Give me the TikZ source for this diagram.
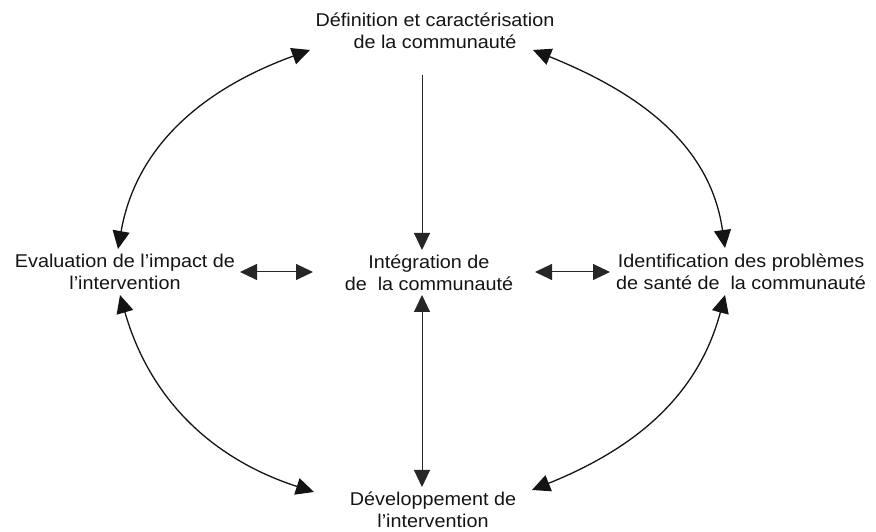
\documentclass[tikz,border=0pt]{standalone}
\usepackage{fontspec}
\setmainfont{Liberation Sans}[FakeStretch=1.07]
\usetikzlibrary{arrows.meta}
\tikzset{
  stage/.style={align=center, inner sep=0pt, text=black!92,
    font=\fontsize{18.5}{22.3}\selectfont},
  link/.style={line width=1pt, draw=black!85},
  ring/.style={line width=1.3pt, draw=black!92},
  oneway/.style={link, arrows={-Triangle[length=17pt,width=16pt]}},
  twoway/.style={link, arrows={Triangle[length=17pt,width=16pt]-Triangle[length=17pt,width=16pt]}},
  ringway/.style={ring, arrows={Triangle[length=18pt,width=17pt]-Triangle[length=18pt,width=17pt]}},
}
\begin{document}
\begin{tikzpicture}[x=1pt,y=1pt]
\useasboundingbox (0,0) rectangle (876,532);

% stages of the cycle
\node[stage] (def) at (435,501) {Définition et caractérisation\\de la communauté};
\node[stage] (integ) at (429,259) {Intégration de\\de\ \ la communauté};
\node[stage] (eval) at (125,260) {Evaluation de l’impact de\\l’intervention};
\node[stage] (ident) at (741,260) {Identification des problèmes\\de santé de\ \ la communauté};
\node[stage] (dev) at (433,22) {Développement de\\l’intervention};

% straight links through the centre
\draw[oneway] ([shift={(-13,-44)}]def.center) -- ([shift={(-7,23)}]integ.center);
\draw[twoway] ([shift={(-7,-22)}]integ.center) -- ([shift={(-11,23)}]dev.center);
\draw[twoway] ([shift={(115,0)}]eval.center) -- ([shift={(-116,1)}]integ.center);
\draw[twoway] ([shift={(106,1)}]integ.center) -- ([shift={(-131,0)}]ident.center);

% outer ring
\draw[ringway] ([shift={(-7,23)}]eval.center) to[out=80,in=200] ([shift={(-125,-19)}]def.center);
\draw[ringway] ([shift={(98,-19)}]def.center) to[out=-22,in=98] ([shift={(-16,24)}]ident.center);
\draw[ringway] ([shift={(-5,-23)}]eval.center) to[out=-74,in=162] ([shift={(-119,18)}]dev.center);
\draw[ringway] ([shift={(99,20)}]dev.center) to[out=22,in=-105] ([shift={(-16,-23)}]ident.center);
\end{tikzpicture}
\end{document}
